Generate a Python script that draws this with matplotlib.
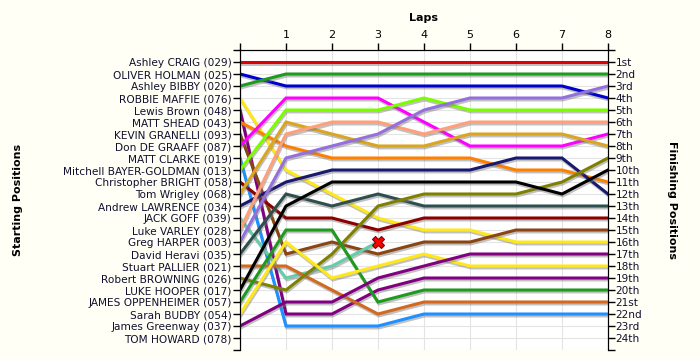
import numpy as np
import matplotlib
matplotlib.use("Agg")
import matplotlib.pyplot as plt
import matplotlib.patheffects as pe

drivers = ["Ashley CRAIG (029)", "OLIVER HOLMAN (025)", "Ashley BIBBY (020)",
           "ROBBIE MAFFIE (076)", "Lewis Brown (048)", "MATT SHEAD (043)",
           "KEVIN GRANELLI (093)", "Don DE GRAAFF (087)", "MATT CLARKE (019)",
           "Mitchell BAYER-GOLDMAN (013)", "Christopher BRIGHT (058)", "Tom Wrigley (068)",
           "Andrew LAWRENCE (034)", "JACK GOFF (039)", "Luke VARLEY (028)",
           "Greg HARPER (003)", "David Heravi (035)", "Stuart PALLIER (021)",
           "Robert BROWNING (026)", "LUKE HOOPER (017)", "JAMES OPPENHEIMER (057)",
           "Sarah BUDBY (054)", "James Greenway (037)", "TOM HOWARD (078)"]

finish_labels = ["1st", "2nd", "3rd"] + ["%dth" % i for i in range(4, 21)] + ["21st", "22nd", "23rd", "24th"]

laps = [0, 1, 2, 3, 4, 5, 6, 7, 8]

# running position of each driver at the end of each lap (lap 0 = grid)
lap_positions = [
    [1, 1, 1, 1, 1, 1, 1, 1, 1],
    [2, 3, 3, 3, 3, 3, 3, 3, 4],
    [3, 2, 2, 2, 2, 2, 2, 2, 2],
    [4, 10, 12, 14, 15, 15, 16, 16, 16],
    [5, 22, 22, 20, 19, 19, 19, 19, 19],
    [6, 8, 9, 9, 9, 9, 10, 10, 11],
    [7, 17, 16, 17, 16, 16, 15, 15, 15],
    [8, 4, 4, 4, 6, 8, 8, 8, 7],
    [9, 23, 23, 23, 22, 22, 22, 22, 22],
    [10, 5, 5, 5, 4, 5, 5, 5, 5],
    [11, 14, 14, 15, 14, 14, 14, 14, 14],
    [12, 6, 7, 8, 8, 7, 7, 7, 8],
    [13, 11, 10, 10, 10, 10, 9, 9, 12],
    [14, 19, 18, 16],
    [15, 7, 6, 6, 7, 6, 6, 6, 6],
    [16, 9, 8, 7, 5, 4, 4, 4, 3],
    [17, 12, 13, 12, 13, 13, 13, 13, 13],
    [18, 18, 20, 22, 21, 21, 21, 21, 21],
    [19, 20, 17, 13, 12, 12, 12, 11, 9],
    [20, 13, 11, 11, 11, 11, 11, 12, 10],
    [21, 15, 15, 21, 20, 20, 20, 20, 20],
    [22, 16, 19, 18, 17, 18, 18, 18, 18],
    [23, 21, 21, 19, 18, 17, 17, 17, 17],
    [],
]
retired = [13]  # JACK GOFF out on lap 3

colors = ["#E00000", "#0000CC", "#1E9A1E", "#FFE81A", "#800080", "#FF8000",
          "#8B4513", "#FF00FF", "#1E90FF", "#7CFC00", "#8B0000", "#DAA520",
          "#191970", "#66CDAA", "#FFA07A", "#9370DB", "#2F4F4F", "#D2691E",
          "#808000", "#000000", "#1E9A1E", "#FFE81A", "#800080", "#888888"]

fig = plt.figure(figsize=(7, 3.6), dpi=100, facecolor="#FFFFF5")
ax = fig.add_axes([240/700, 1-350/360, 368/700, 300/360])
ax.set_facecolor("white")

shadow = [pe.SimpleLineShadow(offset=(0.6, -1.4), shadow_color="#777777", alpha=0.45), pe.Normal()]
for i, pos in enumerate(lap_positions):
    if not pos:
        continue
    ax.plot(laps[:len(pos)], pos, color=colors[i], lw=2.2, solid_joinstyle="miter",
            path_effects=shadow, zorder=3)
    if i in retired:
        ax.plot(laps[len(pos)-1], pos[-1], marker="X", ms=9, color="red",
                mec="#800000", mew=0.8, zorder=5)

ax.set_xlim(0, 8)
ax.set_ylim(25, 0)
ax.xaxis.tick_top()
ax.set_xticks(laps)
ax.set_xticklabels([""] + [str(l) for l in laps[1:]], fontsize=8)
ax.set_xlabel("Laps", fontsize=8, fontweight="bold", labelpad=6)
ax.xaxis.set_label_position("top")

ax.set_yticks(range(0, 26))
ax.set_yticklabels([""] + drivers + [""], fontsize=7.6, color="#101030")
ax.tick_params(axis="y", length=5, width=1, pad=1)
ax.tick_params(axis="x", length=5, width=1, pad=2.5)
ax.grid(True, color="#E4E4E4", lw=0.8, zorder=0)
ax.spines["bottom"].set_visible(False)

ax2 = ax.twinx()
ax2.set_ylim(25, 0)
ax2.set_yticks(range(0, 26))
ax2.set_yticklabels([""] + finish_labels + [""], fontsize=7.6, color="#101030")
ax2.tick_params(axis="y", length=5, width=1, pad=0.5)
ax2.spines["bottom"].set_visible(False)

fig.text(18/700, 1-200/360, "Starting Positions", rotation=90, ha="center", va="center",
         fontsize=8, fontweight="bold")
fig.text(672/700, 1-200/360, "Finishing Positions", rotation=270, ha="center", va="center",
         fontsize=8, fontweight="bold")

fig.savefig("out.png", dpi=100, facecolor=fig.get_facecolor())
